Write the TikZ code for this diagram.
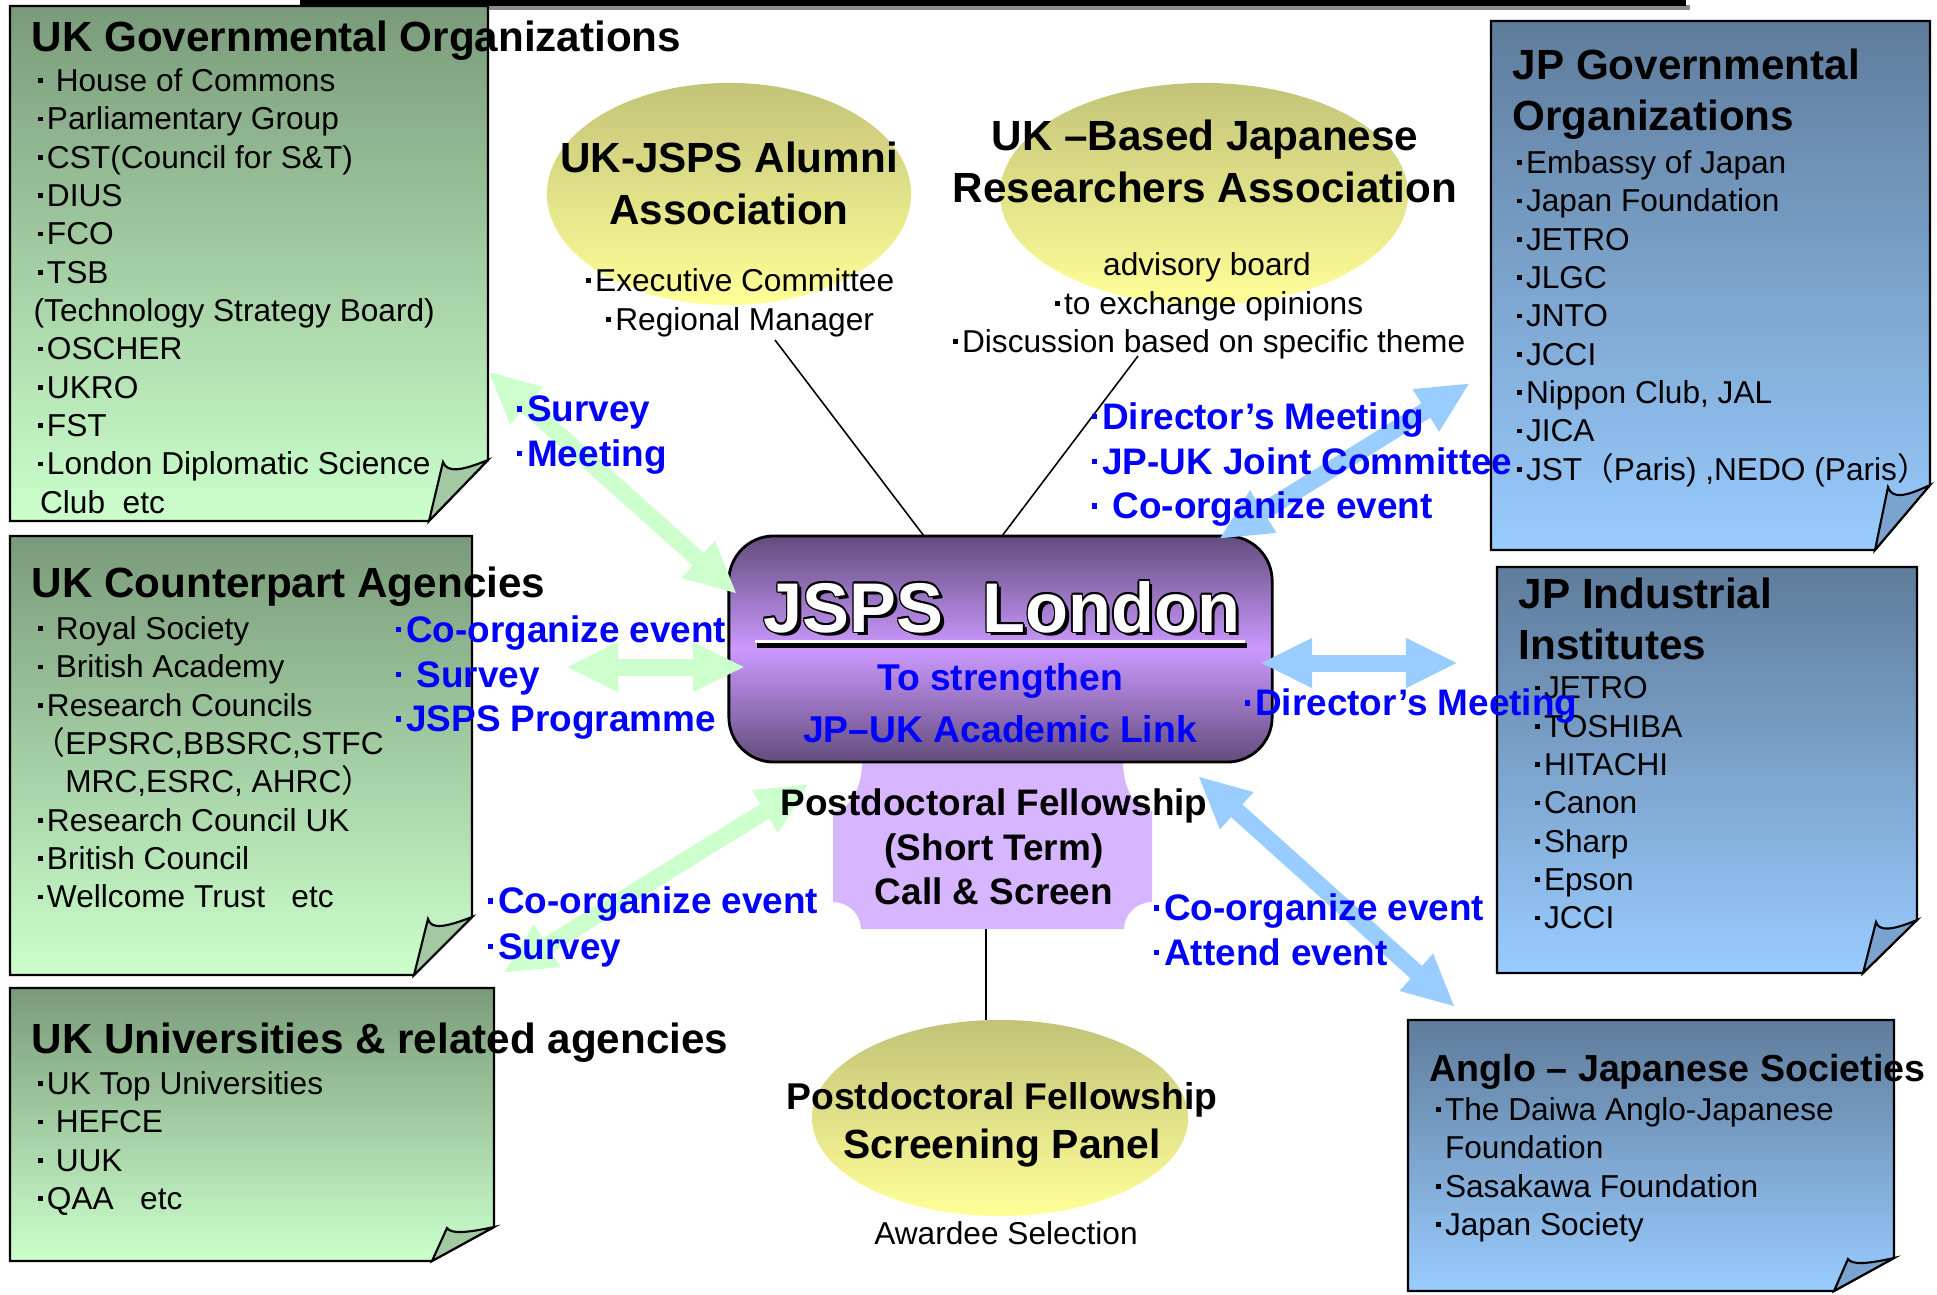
\documentclass[tikz,border=0pt]{standalone}
\usepackage{fontspec}
\setmainfont{Liberation Sans}
\newfontfamily\cjk{Noto Sans CJK JP}
\usetikzlibrary{shapes.geometric,arrows.meta}

\definecolor{ukdark}{RGB}{122,155,122}
\definecolor{uklight}{RGB}{204,255,204}
\definecolor{ukflap}{RGB}{163,201,163}
\definecolor{jpdark}{RGB}{95,124,155}
\definecolor{jplight}{RGB}{153,204,255}
\definecolor{jpflap}{RGB}{122,163,208}
\definecolor{elltop}{RGB}{195,195,120}
\definecolor{ellbot}{RGB}{255,255,153}
\definecolor{jspsdark}{RGB}{98,76,124}
\definecolor{jspslight}{RGB}{204,153,255}
\definecolor{plaquec}{RGB}{216,182,255}
\definecolor{ukarr}{RGB}{204,255,204}
\definecolor{jparr}{RGB}{153,204,255}
\definecolor{labelblue}{RGB}{0,0,255}

% small square bullet
\newcommand{\sqdot}{\hbox to 0.42em{\hss\raisebox{0.27em}{\rule{0.15em}{0.15em}}\hss}}

\tikzset{
  notetitle/.style={font=\fontsize{12}{14.6}\selectfont\bfseries, align=left, inner sep=0pt},
  notelist/.style={font=\fontsize{9}{10.9}\selectfont, align=left, inner sep=0pt, anchor=north west},
  bluetext/.style={font=\fontsize{10.5}{12.7}\selectfont\bfseries, text=labelblue, align=left, inner sep=0pt, anchor=north west},
  uknote/.style={draw=black, line width=0.6pt, top color=ukdark, bottom color=uklight},
  ukfold/.style={draw=black, line width=0.6pt, fill=ukflap},
  jpnote/.style={draw=black, line width=0.6pt, top color=jpdark, bottom color=jplight},
  jpfold/.style={draw=black, line width=0.6pt, fill=jpflap},
  assoc/.style={ellipse, top color=elltop, bottom color=ellbot, inner sep=0pt},
  assoctitle/.style={font=\fontsize{12}{14.8}\selectfont\bfseries, align=center, inner sep=0pt},
  smalltext/.style={font=\fontsize{9}{11}\selectfont, align=center, inner sep=0pt},
  jspsfont/.style={font=\fontsize{20}{24}\selectfont\bfseries, inner sep=0pt},
  ukarrow/.style={draw=ukarr, line width=0.17cm, arrows={Triangle[width=0.46cm,length=0.52cm]-Triangle[width=0.46cm,length=0.52cm]}},
  jparrow/.style={draw=jparr, line width=0.17cm, arrows={Triangle[width=0.46cm,length=0.52cm]-Triangle[width=0.46cm,length=0.52cm]}},
  thinline/.style={draw=black, line width=0.45pt}
}

\begin{document}
\begin{tikzpicture}[x=0.01cm, y=-0.01cm]
\useasboundingbox (0,0) rectangle (1937,1294);

% cut-off rule at the top
\fill[black!45] (304,5) rectangle (1690,10);
\fill[black] (300,0) rectangle (1686,6);

% Note 1 (left top): UK governmental organizations
\draw[uknote] (10,6) -- (488,6) -- (488,460) -- (429,521) -- (10,521) -- cycle;
\draw[ukfold] (429,521) -- (443,462) .. controls (447,473) and (461,471) .. (488,460) -- cycle;
\node[notetitle, anchor=base west] (ukgovtitle) at (31,52) {UK Governmental Organizations};
\node[notelist] (ukgov) at (33,68) {\sqdot\ House of Commons\\ \sqdot Parliamentary Group\\ \sqdot CST(Council for S\&T)\\ \sqdot DIUS\\ \sqdot FCO\\ \sqdot TSB\\ (Technology Strategy Board)\\ \sqdot OSCHER\\ \sqdot UKRO\\ \sqdot FST\\ \sqdot London Diplomatic Science\\ \hspace*{0.2em}Club\ \ etc};

% Note 2 (left middle): UK counterpart agencies
\draw[uknote] (10,536) -- (472,536) -- (472,917) -- (414,975) -- (10,975) -- cycle;
\draw[ukfold] (414,975) -- (428,919) .. controls (431,930) and (446,927) .. (472,917) -- cycle;
\node[notetitle, anchor=base west] (ukcptitle) at (31,597) {UK Counterpart Agencies};
\node[notelist] (ukcp) at (33,616) {\sqdot\ Royal Society\\ \sqdot\ British Academy\\ \sqdot Research Councils\\ {\cjk （}EPSRC,BBSRC,STFC\\ \hspace*{1em}MRC,ESRC, AHRC{\cjk ）}\\ \sqdot Research Council UK\\ \sqdot British Council\\ \sqdot Wellcome Trust\ \ \ etc};

% Note 3 (left bottom): UK universities
\draw[uknote] (10,988) -- (494,988) -- (494,1227) -- (432,1261) -- (10,1261) -- cycle;
\draw[ukfold] (432,1261) -- (447,1228) .. controls (451,1234) and (466,1233) .. (494,1227) -- cycle;
\node[notetitle, anchor=base west] (ukunititle) at (31,1053) {UK Universities \& related agencies};
\node[notelist] (ukuni) at (33,1071) {\sqdot UK Top Universities\\ \sqdot\ HEFCE\\ \sqdot\ UUK\\ \sqdot QAA\ \ \ etc};

% Note 4 (right top): JP governmental organizations
\draw[jpnote] (1491,21) -- (1930,21) -- (1930,485) -- (1875,550) -- (1491,550) -- cycle;
\draw[jpfold] (1875,550) -- (1888,487) .. controls (1892,499) and (1905,497) .. (1930,485) -- cycle;
\node[notetitle, anchor=north west] (jpgovtitle) at (1512,48) {JP Governmental\\Organizations};
\node[notelist] (jpgov) at (1512,150) {\sqdot Embassy of Japan\\ \sqdot Japan Foundation\\ \sqdot JETRO\\ \sqdot JLGC\\ \sqdot JNTO\\ \sqdot JCCI\\ \sqdot Nippon Club, JAL\\ \sqdot JICA\\ \sqdot JST{\cjk （}Paris) ,NEDO (Paris{\cjk ）}};

% Note 5 (right middle): JP industrial institutes
\draw[jpnote] (1497,567) -- (1917,567) -- (1917,920) -- (1863,973) -- (1497,973) -- cycle;
\draw[jpfold] (1863,973) -- (1876,922) .. controls (1879,932) and (1893,930) .. (1917,920) -- cycle;
\node[notetitle, anchor=north west] (jpindtitle) at (1518,577) {JP Industrial\\Institutes};
\node[notelist] (jpind) at (1530,676) {\sqdot JETRO\\ \sqdot TOSHIBA\\ \sqdot HITACHI\\ \sqdot Canon\\ \sqdot Sharp\\ \sqdot Epson\\ \sqdot JCCI};

% Note 6 (right bottom): Anglo-Japanese societies
\draw[jpnote] (1408,1020) -- (1894,1020) -- (1894,1258) -- (1834,1291) -- (1408,1291) -- cycle;
\draw[jpfold] (1834,1291) -- (1848,1259) .. controls (1852,1265) and (1867,1264) .. (1894,1258) -- cycle;
\node[notetitle, anchor=base west, font=\fontsize{10.7}{13}\selectfont\bfseries] (anglotitle) at (1429,1081) {Anglo -- Japanese Societies};
\node[notelist] (anglo) at (1431,1097) {\sqdot The Daiwa Anglo-Japanese\\ \hspace*{0.42em}Foundation\\ \sqdot Sasakawa Foundation\\ \sqdot Japan Society};

% Associations (yellow ellipses)
\node[assoc, minimum width=3.64cm, minimum height=2.22cm] (alumni) at (729,194) {};
\node[assoctitle] (alumnitxt) at (729,183) {UK-JSPS Alumni\\Association};
\node[smalltext, anchor=north] (alumnisub) at (738,268) {\sqdot Executive Committee\\ \sqdot Regional Manager};
\node[assoc, minimum width=4.08cm, minimum height=2.22cm] (researchers) at (1204,194) {};
\node[assoctitle] (researcherstxt) at (1205,161) {UK --Based Japanese\\Researchers Association};
\node[smalltext, anchor=north, font=\fontsize{9}{10.95}\selectfont] (researcherssub) at (1207,252) {advisory board\\ \sqdot to exchange opinions\\ \sqdot Discussion based on specific theme};

% lines down to the JSPS box
\coordinate (la) at (775,340);
\coordinate (lb) at (924,536);
\coordinate (lc) at (1138,356);
\coordinate (ld) at (1002,536);
\draw[thinline] (la) -- (lb);
\draw[thinline] (lc) -- (ld);

% Fellowship plaque under the JSPS box
\fill[plaquec] (862,762) -- (1123,762) .. controls (1123,789) and (1136,811) .. (1152,811) -- (1152,902) .. controls (1137,902) and (1124,914) .. (1124,929) -- (861,929) .. controls (861,914) and (848,902) .. (833,902) -- (833,811) .. controls (849,811) and (862,789) .. (862,762) -- cycle;

% Screening panel
\node[assoc, minimum width=3.76cm, minimum height=1.96cm] (panel) at (1000,1118) {};
\node[font=\fontsize{11}{14}\selectfont\bfseries, align=center, inner sep=0pt] (paneltxt) at (1002,1125) {{\fontsize{10.6}{14}\selectfont Postdoctoral Fellowship}\\{\fontsize{11.6}{14}\selectfont Screening Panel}};
\node[smalltext] (awardee) at (1006,1233) {Awardee Selection};
\coordinate (pq) at (986,929);
\coordinate (pn) at (986,1020);
\draw[thinline] (pq) -- (pn);

% JSPS London box
\node[draw=black, line width=0.8pt, rounded corners=0.45cm, minimum width=5.43cm, minimum height=2.26cm, top color=jspsdark, bottom color=jspsdark, middle color=jspslight] (jsps) at (1000.5,649) {};
\foreach \dx/\dy [count=\n] in {-1.5/0, 1.5/0, 0/-1.5, 0/1.5, -1.1/-1.1, 1.1/1.1, -1.1/1.1, 1.1/-1.1, 3.5/3.5}
  \node[jspsfont, text=black, anchor=base, shift={(\dx,\dy)}] (jspsedge\n) at (1002,632) {JSPS\ \ London};
\node[jspsfont, text=white, anchor=base] (jspsname) at (1002,632) {JSPS\ \ London};
\draw[black, line width=0.05cm] (757,645) -- (1247,645);
\draw[white, line width=0.03cm] (755,641) -- (1245,641);
\node[font=\fontsize{10.6}{14.8}\selectfont\bfseries, text=labelblue, align=center, inner sep=0pt] (aim) at (1000,703) {To strengthen\\JP--UK Academic Link};

% Arrows, UK side
\coordinate (ga) at (488,371);
\coordinate (gb) at (737,594);
\coordinate (gc) at (566,667);
\coordinate (gd) at (745,667);
\coordinate (ge) at (503,973);
\coordinate (gf) at (809,784);
\draw[ukarrow] (ga) -- (gb);
\draw[ukarrow] (gc) -- (gd);
\draw[ukarrow] (ge) -- (gf);

% Arrows, JP side
\coordinate (ja) at (1219,539);
\coordinate (jb) at (1470,383);
\coordinate (jc) at (1260,663);
\coordinate (jd) at (1458,663);
\coordinate (je) at (1198,776);
\coordinate (jf) at (1455,1007);
\draw[jparrow] (ja) -- (jb);
\draw[jparrow] (jc) -- (jd);
\draw[jparrow] (je) -- (jf);

% plaque text on top of the arrows
\node[font=\fontsize{10.5}{12.7}\selectfont\bfseries, align=center, inner sep=0pt] (fellowship) at (994,847) {Postdoctoral Fellowship\\(Short Term)\\Call \& Screen};

% Blue labels on the arrows
\node[bluetext] (lab1) at (511,395) {\sqdot Survey\\\sqdot Meeting};
\node[bluetext] (lab2) at (390,615) {\sqdot Co-organize event\\\sqdot\ Survey\\\sqdot JSPS Programme};
\node[bluetext, font=\fontsize{10.5}{13}\selectfont\bfseries] (lab3) at (482,886) {\sqdot Co-organize event\\\sqdot Survey};
\node[bluetext] (lab4) at (1086,402) {\sqdot Director’s Meeting\\\sqdot JP-UK Joint Committee\\\sqdot\ Co-organize event};
\node[bluetext] (lab5) at (1239,688) {\sqdot Director’s Meeting};
\node[bluetext] (lab6) at (1148,893) {\sqdot Co-organize event\\\sqdot Attend event};

\end{tikzpicture}
\end{document}
